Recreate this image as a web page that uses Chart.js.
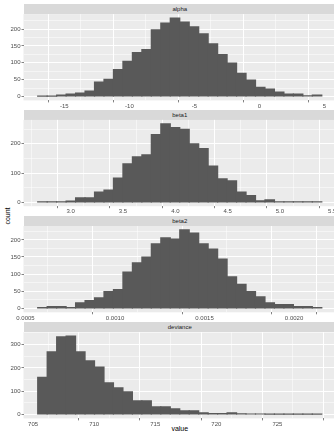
<!DOCTYPE html>
<html>
<head>
<meta charset="utf-8">
<script src="https://cdn.jsdelivr.net/npm/chart.js@4.4.1/dist/chart.umd.min.js"></script>
<style>
html, body { margin: 0; padding: 0; background: #fff; overflow: hidden; width: 334px; height: 431px; }
canvas { position: absolute; left: 0; }
.strip { position: absolute; left: 23.5px; width: 312.5px; height: 10.4px; background: #D9D9D9;
  color: #1A1A1A; font: 6px "Liberation Sans", Arial, sans-serif; line-height: 10.4px; text-align: center; }
.ytitle { position: absolute; left: 7px; top: 216px; transform: translate(-50%, -50%) rotate(-90deg);
  font: 7px "Liberation Sans", Arial, sans-serif; color: #000; white-space: nowrap; }
.xtitle { position: absolute; left: 179.75px; top: 424.5px; transform: translateX(-50%);
  font: 7px "Liberation Sans", Arial, sans-serif; color: #000; }
</style>
</head>
<body>
<div class="ytitle">count</div>
<div class="xtitle">value</div>
<script>
// facet names
const panelNames = ['alpha', 'beta1', 'beta2', 'deviance'];

// histogram counts, 30 bins per facet
const alphaCounts = [1, 1, 4, 7, 10, 16, 43, 51, 80, 104, 130, 139, 198, 218, 233, 221, 207, 186, 156, 124, 99, 69, 49, 27, 22, 13, 7, 7, 2, 4];
const beta1Counts = [1, 1, 1, 4, 15, 15, 35, 42, 83, 131, 155, 162, 231, 268, 255, 249, 200, 183, 124, 80, 73, 35, 23, 5, 8, 1, 1, 1, 1, 1];
const beta2Counts = [2, 5, 5, 2, 16, 23, 31, 49, 55, 106, 133, 150, 188, 206, 202, 229, 220, 188, 173, 144, 92, 70, 49, 34, 16, 11, 11, 5, 5, 2];
const devianceCounts = [159, 269, 333, 337, 269, 230, 204, 136, 114, 97, 59, 59, 33, 33, 24, 16, 16, 7, 4, 4, 7, 3, 2, 2, 1, 1, 1, 1, 1, 1];

// left edge of first bin and bin width
const alphaBins = [-17.05, 0.728];
const beta1Bins = [2.685, 0.0905];
const beta2Bins = [0.000568, 0.0000529];
const devianceBins = [705.38, 0.775];

// x ticks and labels
const alphaTicks = [-15, -10, -5, 0, 5];
const alphaTickLabels = ['-15', '-10', '-5', '0', '5'];
const beta1Ticks = [3.0, 3.5, 4.0, 4.5, 5.0, 5.5];
const beta1TickLabels = ['3.0', '3.5', '4.0', '4.5', '5.0', '5.5'];
const beta2Ticks = [0.0005, 0.0010, 0.0015, 0.0020];
const beta2TickLabels = ['0.0005', '0.0010', '0.0015', '0.0020'];
const devianceTicks = [705, 710, 715, 720, 725];
const devianceTickLabels = ['705', '710', '715', '720', '725'];

// y ticks
const alphaYTicks = [0, 50, 100, 150, 200];
const beta1YTicks = [0, 100, 200];
const beta2YTicks = [0, 50, 100, 150, 200];
const devianceYTicks = [0, 100, 200, 300];

const facets = [
  { counts: alphaCounts, bins: alphaBins, xt: alphaTicks, xl: alphaTickLabels, yt: alphaYTicks },
  { counts: beta1Counts, bins: beta1Bins, xt: beta1Ticks, xl: beta1TickLabels, yt: beta1YTicks },
  { counts: beta2Counts, bins: beta2Bins, xt: beta2Ticks, xl: beta2TickLabels, yt: beta2YTicks },
  { counts: devianceCounts, bins: devianceBins, xt: devianceTicks, xl: devianceTickLabels, yt: devianceYTicks }
];

// layout
const panelTops = [14.1, 119.9, 226, 332.1];
const panelH = 86.3;
const stripH = 10.4;
const padTop = 6, padRight = 10, xAxisH = 12;

Chart.defaults.font.family = '"Liberation Sans", Arial, sans-serif';
Chart.defaults.font.size = 6;
Chart.defaults.color = '#4D4D4D';

const panelBg = {
  id: 'panelBg',
  beforeDraw(chart) {
    const a = chart.chartArea, c = chart.ctx;
    c.save();
    c.fillStyle = '#EBEBEB';
    c.fillRect(a.left, a.top, a.right - a.left, a.bottom - a.top);
    c.restore();
  }
};

// majors plus ggplot-style minor breaks halfway between them
function withMinors(majors, labels, min, max) {
  const step = majors[1] - majors[0];
  const out = [];
  majors.forEach((v, i) => out.push({ value: v, gg: 'major', lab: labels ? labels[i] : String(v) }));
  out.push({ value: majors[0] - step / 2, gg: 'minor', lab: '' });
  majors.forEach(v => out.push({ value: v + step / 2, gg: 'minor', lab: '' }));
  return out.filter(t => t.value >= min && t.value <= max).sort((p, q) => p.value - q.value);
}

function gridOpts() {
  return {
    color: '#FFFFFF',
    lineWidth: ctx => (ctx.tick && ctx.tick.gg === 'minor') ? 0.5 : 1,
    drawTicks: true,
    tickLength: 2,
    tickWidth: 0.6,
    tickColor: ctx => (ctx.tick && ctx.tick.gg === 'minor') ? 'rgba(0,0,0,0)' : '#333333'
  };
}

facets.forEach((f, k) => {
  const [b0, bw] = f.bins;
  const n = f.counts.length;
  const xmin = b0 - 0.05 * n * bw, xmax = b0 + 1.05 * n * bw;
  const ymaxC = Math.max(...f.counts);
  const ymin = -0.05 * ymaxC, ymax = 1.05 * ymaxC;

  const strip = document.createElement('div');
  strip.className = 'strip';
  strip.style.top = (panelTops[k] - stripH) + 'px';
  strip.textContent = panelNames[k];
  document.body.appendChild(strip);

  const cv = document.createElement('canvas');
  const top = Math.floor(panelTops[k]) - padTop;
  const pt = panelTops[k] - top;
  const h = Math.ceil(pt + panelH + xAxisH);
  cv.width = 336 + padRight;
  cv.height = h;
  cv.style.top = top + 'px';
  document.body.appendChild(cv);

  new Chart(cv.getContext('2d'), {
    type: 'bar',
    data: {
      datasets: [{
        data: f.counts.map((c, i) => ({ x: b0 + (i + 0.5) * bw, y: c })),
        backgroundColor: '#595959',
        borderWidth: 0,
        inflateAmount: 0.6,
        barPercentage: 1,
        categoryPercentage: 1
      }]
    },
    options: {
      responsive: false,
      animation: false,
      devicePixelRatio: 1,
      layout: { padding: { top: pt, right: padRight, left: 0, bottom: h - pt - panelH - xAxisH } },
      plugins: { legend: { display: false }, tooltip: { enabled: false } },
      scales: {
        x: {
          type: 'linear', min: xmin, max: xmax, offset: false,
          grid: gridOpts(),
          border: { display: false },
          afterBuildTicks: s => { s.ticks = withMinors(f.xt, f.xl, xmin, xmax); },
          afterFit: s => { s.height = xAxisH; },
          ticks: {
            autoSkip: false, maxRotation: 0, minRotation: 0, padding: 0,
            callback: (v, i, ticks) => ticks[i].lab
          }
        },
        y: {
          type: 'linear', min: ymin, max: ymax,
          grid: gridOpts(),
          border: { display: false },
          afterBuildTicks: s => { s.ticks = withMinors(f.yt, null, ymin, ymax); },
          afterFit: s => { s.width = 23.5; },
          ticks: {
            autoSkip: false, padding: 1,
            callback: (v, i, ticks) => ticks[i].lab
          }
        }
      }
    },
    plugins: [panelBg]
  });
});
</script>
</body>
</html>
